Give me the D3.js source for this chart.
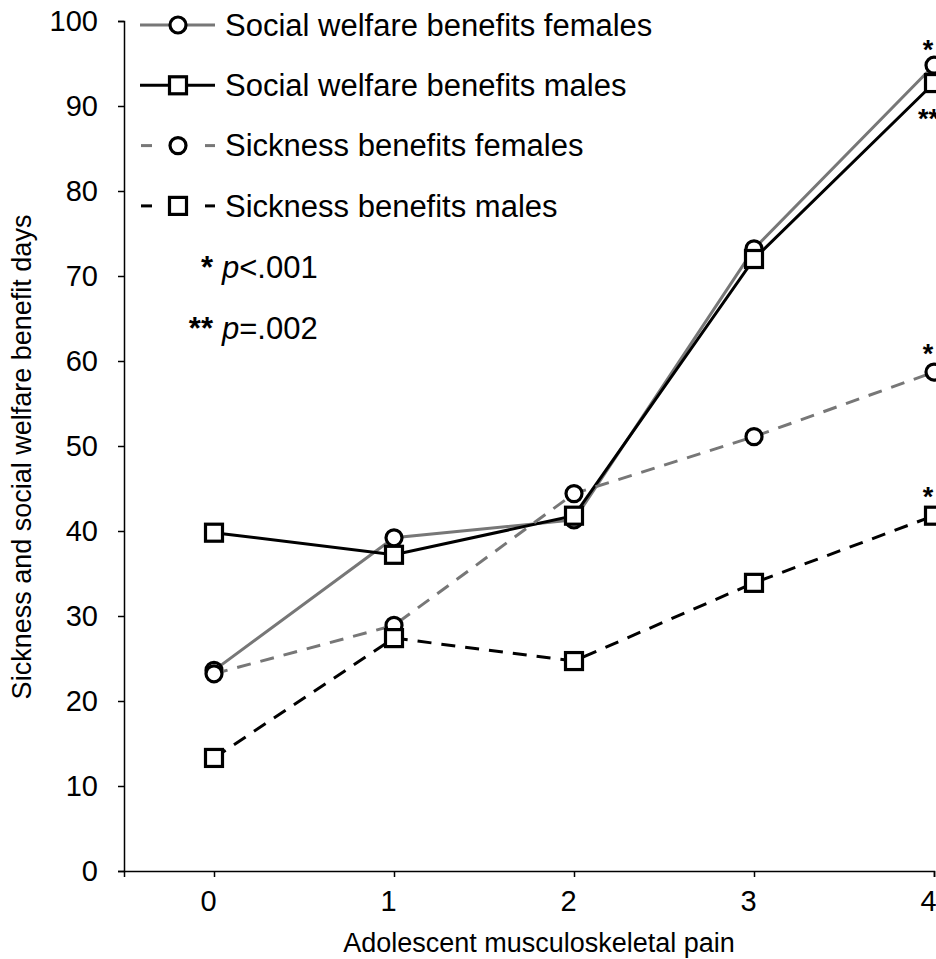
<!DOCTYPE html>
<html lang="en">
<head>
  <meta charset="UTF-8">
  <title>benefit days</title>
  <script src="https://d3js.org/d3.v7.min.js"></script>
  <style>
    body { margin: 0; background: #fff; }
    svg { display: block; font-family: "Liberation Sans", Arial, sans-serif; }
  </style>
</head>
<body>
<svg></svg>
<script>
  const categories = [0, 1, 2, 3, 4]
  const yTicks = [0, 10, 20, 30, 40, 50, 60, 70, 80, 90, 100]
  const seriesNames = ['Social welfare benefits females', 'Social welfare benefits males',
    'Sickness benefits females', 'Sickness benefits males']
  const welfareFemales = [23.6, 39.2, 41.3, 73.2, 94.8]
  const welfareMales = [39.8, 37.2, 41.8, 72.0, 92.7]
  const sicknessFemales = [23.2, 28.9, 44.4, 51.1, 58.7]
  const sicknessMales = [13.3, 27.4, 24.7, 33.9, 41.8]
  // significance marks at the last category
  const sigMarks = ['*', '**', '*', '*']
  const pNotes = [['*', '<.001'], ['**', '=.002']]

  const width = 936, height = 959
  const margin = {top: 21, right: 2, bottom: 88, left: 124}
  const grey = '#777777'

  const x = d3.scaleLinear()
      .domain([-0.5, 4])
      .range([margin.left, 934])

  const y = d3.scaleLinear()
      .domain([0, 100])
      .range([height - margin.bottom, margin.top])

  const svg = d3.select('svg')
      .attr('width', width)
      .attr('height', height)
      .attr('viewBox', [0, 0, width, height])

  const series = [
    {name: seriesNames[0], values: welfareFemales, color: grey, dash: null, shape: 'circle', off: -21},
    {name: seriesNames[1], values: welfareMales, color: '#000', dash: null, shape: 'square', off: 30},
    {name: seriesNames[2], values: sicknessFemales, color: grey, dash: '14,10', shape: 'circle', off: -24},
    {name: seriesNames[3], values: sicknessMales, color: '#000', dash: '14,10', shape: 'square', off: -25}
  ]

  // axes
  svg.append('g')
      .attr('transform', `translate(0,${y(0)})`)
      .call(d3.axisBottom(x).tickValues(categories).tickFormat(d3.format('d'))
          .tickSizeOuter(0).tickSize(6).tickPadding(13))
      .call(g => g.selectAll('text').attr('font-size', 29).attr('font-family', null)
          .attr('fill', '#000').attr('dx', -6))
      .call(g => g.selectAll('line,path').attr('stroke', '#000').attr('stroke-width', 1.5))

  svg.append('g')
      .attr('transform', `translate(${margin.left},0)`)
      .call(d3.axisLeft(y).tickValues(yTicks).tickSizeOuter(0).tickSize(6).tickPadding(20))
      .call(g => g.selectAll('text').attr('font-size', 29).attr('font-family', null).attr('fill', '#000'))
      .call(g => g.selectAll('line,path').attr('stroke', '#000').attr('stroke-width', 1.5))

  svg.append('text')
      .attr('x', 539)
      .attr('y', 952)
      .attr('text-anchor', 'middle')
      .attr('font-size', 27)
      .text('Adolescent musculoskeletal pain')

  svg.append('text')
      .attr('transform', 'translate(31,457) rotate(-90)')
      .attr('text-anchor', 'middle')
      .attr('font-size', 27)
      .text('Sickness and social welfare benefit days')

  const line = d3.line()
      .x((d, i) => x(categories[i]))
      .y(d => y(d))

  function marker(g, shape, cx, cy) {
    if (shape === 'circle') {
      g.append('circle')
          .attr('cx', cx).attr('cy', cy).attr('r', 8)
          .attr('fill', '#fff').attr('stroke', '#000').attr('stroke-width', 3.2)
    } else {
      g.append('rect')
          .attr('x', cx - 8.5).attr('y', cy - 8.5)
          .attr('width', 17).attr('height', 17)
          .attr('fill', '#fff').attr('stroke', '#000').attr('stroke-width', 3.2)
    }
  }

  series.forEach((s, k) => {
    const g = svg.append('g')
    g.append('path')
        .attr('d', line(s.values))
        .attr('fill', 'none')
        .attr('stroke', s.color)
        .attr('stroke-width', 3)
        .attr('stroke-dasharray', s.dash)
    s.values.forEach((v, i) => marker(g, s.shape, x(categories[i]), y(v)))

    // significance star next to the last point
    const last = s.values[s.values.length - 1]
    const multi = sigMarks[k].length > 1
    svg.append('text')
        .attr('x', multi ? 918 : x(4) - 6)
        .attr('y', y(last) + s.off + 15)
        .attr('text-anchor', multi ? 'start' : 'middle')
        .attr('font-size', 27)
        .attr('font-weight', 'bold')
        .text(sigMarks[k])

    // legend row
    const ly = 25 + k * 60.3
    const lg = svg.append('g')
    if (s.dash) {
      [[141, 152], [205, 215]].forEach(([a, b]) => lg.append('line')
          .attr('x1', a).attr('x2', b).attr('y1', ly).attr('y2', ly)
          .attr('stroke', s.color).attr('stroke-width', 3))
    } else {
      lg.append('line')
          .attr('x1', 140).attr('x2', 215).attr('y1', ly).attr('y2', ly)
          .attr('stroke', s.color).attr('stroke-width', 3)
    }
    marker(lg, s.shape, 178, ly)
    lg.append('text')
        .attr('x', 225)
        .attr('y', ly)
        .attr('dy', '0.35em')
        .attr('font-size', 31)
        .text(s.name)
  })

  pNotes.forEach(([stars, rest], i) => {
    svg.append('text')
        .attr('x', 213)
        .attr('y', 278 + i * 61)
        .attr('text-anchor', 'end')
        .attr('font-size', 31)
        .attr('font-weight', 'bold')
        .text(stars)
    const t2 = svg.append('text')
        .attr('x', 222)
        .attr('y', 278 + i * 61)
        .attr('font-size', 31)
    t2.append('tspan').attr('font-style', 'italic').text('p')
    t2.append('tspan').text(rest)
  })
</script>
</body>
</html>
